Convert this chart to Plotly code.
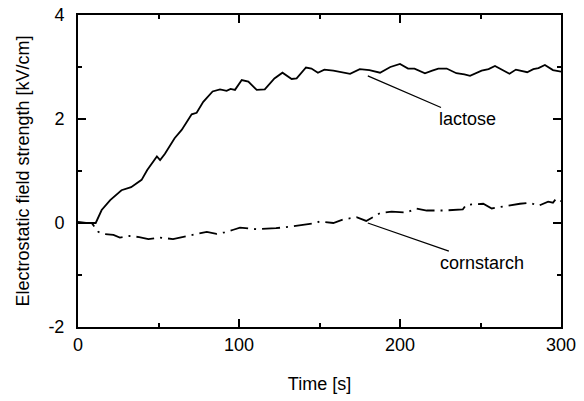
import plotly.graph_objects as go

# ---- data ----
lactose_t = [0, 5, 11, 14.7, 20, 27, 33, 39.5, 43, 49, 51, 54, 60, 64.4, 70.6,
             73.7, 77.8, 83.6, 88.2, 92.3, 94.8, 97.5, 101.7, 105.8, 111,
             116, 122, 127, 132.7, 135.8, 141.6, 145, 149, 153, 158.6,
             164, 169, 175, 181, 187.6, 194, 200, 205, 209, 215.5,
             220, 223.8, 229, 235, 240, 243.5, 250.7, 255, 259, 263,
             268, 272, 275.6, 279, 282.8, 286, 290, 295, 300]
lactose_v = [0.02, 0.0, 0.0, 0.25, 0.44, 0.63, 0.69, 0.83, 1.02, 1.28,
             1.21, 1.33, 1.63, 1.79, 2.09, 2.12, 2.33, 2.53, 2.57, 2.54,
             2.58, 2.56, 2.75, 2.72, 2.56, 2.57, 2.78, 2.89, 2.77, 2.78,
             2.99, 2.97, 2.89, 2.95, 2.93, 2.90, 2.87, 2.96, 2.94, 2.89,
             3.0, 3.06, 2.97, 2.97, 2.88, 2.93, 2.97, 2.97, 2.88, 2.86,
             2.83, 2.93, 2.96, 3.02, 2.95, 2.87, 2.95, 2.93, 2.90, 2.96,
             2.98, 3.04, 2.94, 2.91]

cornstarch_t = [0, 8.5, 12.6, 15.7, 22, 26, 32, 38, 43.7, 51,
                59, 65, 71.6, 80, 86, 91, 96.5, 100.6, 111, 117,
                123, 131.7, 138, 148, 150, 158.6, 164.8, 173, 179, 187.6,
                194.8, 204, 210, 216.6, 227, 239, 241, 251.7, 257, 266,
                274.5, 280.7, 286, 292, 295, 297, 300]
cornstarch_v = [0.0, 0.0, -0.17, -0.21, -0.23, -0.28, -0.25, -0.27, -0.31, -0.28,
                -0.31, -0.27, -0.23, -0.17, -0.21, -0.18, -0.13, -0.09, -0.12, -0.11,
                -0.10, -0.07, -0.04, 0.0, 0.03, 0.0, 0.07, 0.11, 0.04, 0.19,
                0.22, 0.20, 0.28, 0.24, 0.24, 0.26, 0.35, 0.37, 0.28, 0.33,
                0.37, 0.39, 0.33, 0.41, 0.39, 0.47, 0.42]

x_ticks = [0, 100, 200, 300]
y_ticks = [-2, 0, 2, 4]

# label annotations: (text, arrow tip x, tip y, text x, text y)
labels = [
    ("lactose", 180, 2.83, 242, 2.0),
    ("cornstarch", 180, 0.0, 251, -0.76),
]

FONT = "Arial, Liberation Sans, Helvetica, sans-serif"

fig = go.Figure()
fig.add_trace(go.Scatter(x=lactose_t, y=lactose_v, mode="lines",
                         line=dict(color="black", width=1.8), name="lactose"))
fig.add_trace(go.Scatter(x=cornstarch_t, y=cornstarch_v, mode="lines",
                         line=dict(color="black", width=1.8, dash="18px,6px,2px,6px"),
                         name="cornstarch"))

for text, tx, ty, ax, ay in labels:
    fig.add_annotation(x=tx, y=ty, xref="x", yref="y", axref="x", ayref="y",
                       ax=ax, ay=ay, text=text, showarrow=True, arrowhead=0,
                       arrowwidth=1.3, arrowcolor="black", standoff=0,
                       font=dict(family=FONT, size=18, color="black"))

axis_common = dict(showline=True, linecolor="black", linewidth=2, mirror="ticks",
                   ticks="inside", ticklen=8, tickwidth=1.5, tickcolor="black",
                   showgrid=False, zeroline=False, automargin=False,
                   tickfont=dict(family=FONT, size=18, color="black"))

fig.update_xaxes(range=[0, 300], tickvals=x_ticks, ticktext=[str(v) for v in x_ticks],
                 minor=dict(ticks="inside", ticklen=4, dtick=50, tickcolor="black", tickwidth=1.5),
                 title=dict(text="Time [s]", font=dict(family=FONT, size=18, color="black"), standoff=24),
                 ticklabelstandoff=0,
                 **axis_common)
fig.update_yaxes(range=[-2, 4], tickvals=y_ticks, ticktext=[str(v) for v in y_ticks],
                 minor=dict(ticks="inside", ticklen=4, dtick=1, tickcolor="black", tickwidth=1.5),
                 title=dict(text="Electrostatic field strength [kV/cm]",
                            font=dict(family=FONT, size=18, color="black"), standoff=14),
                 ticklabelstandoff=8,
                 **axis_common)

fig.update_layout(width=584, height=401, margin=dict(l=78, r=23, t=15, b=74),
                  plot_bgcolor="white", paper_bgcolor="white", showlegend=False,
                  font=dict(family=FONT, size=18, color="black"))

fig.write_html("out.html")
